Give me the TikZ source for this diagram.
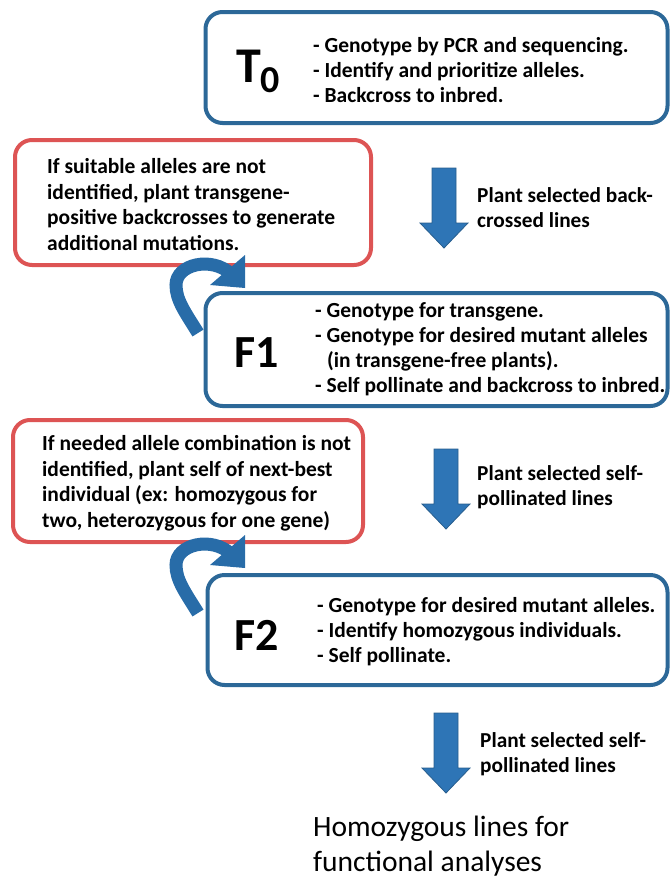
\documentclass[tikz,border=0pt]{standalone}
\usepackage{fontspec}
\setmainfont{Carlito}
\definecolor{boxblue}{RGB}{44,104,152}
\definecolor{boxred}{RGB}{221,84,84}
\definecolor{arrfill}{RGB}{46,117,182}
\definecolor{arrline}{RGB}{40,94,142}
\definecolor{curvblue}{RGB}{40,108,168}
\begin{document}
\begin{tikzpicture}[x=1pt,y=-1pt,
  bluebox/.style={draw=boxblue,line width=4pt,rounded corners=17pt,fill=white,inner sep=0pt},
  redbox/.style={draw=boxred,line width=4pt,rounded corners=17pt,fill=white,inner sep=0pt},
  bul/.style={font=\fontsize{21.5}{25}\selectfont\bfseries,align=left,anchor=north west,inner sep=0pt},
  redtxt/.style={font=\fontsize{21.5}{25.8}\selectfont\bfseries,align=left,anchor=north west,inner sep=0pt},
  lbl/.style={font=\fontsize{21.3}{25}\selectfont\bfseries,align=left,anchor=north west,inner sep=0pt},
  gen/.style={font=\fontsize{46}{46}\selectfont\bfseries,anchor=base west,inner sep=0pt},
  fintxt/.style={font=\fontsize{29.5}{35}\selectfont,align=left,anchor=north west,inner sep=0pt},
  downarr/.pic={\filldraw[fill=arrfill,draw=arrline,line width=0.8pt]
     (-12,0) -- (12,0) -- (12,55) -- (24,55) -- (0,80) -- (-24,55) -- (-12,55) -- cycle;},
  looparr/.pic={
     \draw[line width=13pt,curvblue,line cap=butt]
       (198,333) .. controls (185,312) and (176,300) .. (176,285)
       .. controls (176,264) and (212,256) .. (231,274);
     \fill[curvblue] (210,285) -- (245,255) -- (245,288) -- cycle;}
]
\useasboundingbox (0,0) rectangle (670,879);

% blue boxes
\node[bluebox,minimum width=462pt,minimum height=111pt] (t0) at (436.5,67.5) {};
\node[bluebox,minimum width=462pt,minimum height=113pt] (f1) at (436.5,349.5) {};
\node[bluebox,minimum width=460pt,minimum height=110pt] (f2) at (437.5,630) {};
% red boxes
\node[redbox,minimum width=356pt,minimum height=125pt] (r1) at (193,202.5) {};
\node[redbox,minimum width=350pt,minimum height=122pt] (r2) at (188,481) {};

% big labels
\node[gen,font=\fontsize{50}{50}\selectfont\bfseries] (t0lab) at (236,82) {T\raisebox{-10pt}{\fontsize{38}{38}\selectfont 0}};
\node[gen] (f1lab) at (234,367) {F1};
\node[gen] (f2lab) at (234,650) {F2};

% bullet texts
\node[bul] (t0txt) at (313,37) {- Genotype by PCR and sequencing.\\- Identify and prioritize alleles.\\- Backcross to inbred.};
\node[bul] (f1txt) at (315,302) {- Genotype for transgene.\\- Genotype for desired mutant alleles\\\hspace*{12pt}(in transgene-free plants).\\- Self pollinate and backcross to inbred.};
\node[bul] (f2txt) at (317,597) {- Genotype for desired mutant alleles.\\- Identify homozygous individuals.\\- Self pollinate.};

% red texts
\node[redtxt] (r1txt) at (47,158) {If suitable alleles are not\\identified, plant transgene-\\positive backcrosses to generate\\additional mutations.};
\node[redtxt] (r2txt) at (42,435) {If needed allele combination is not\\identified, plant self of next-best\\individual (ex: homozygous for\\two, heterozygous for one gene)};

% down arrows
\coordinate (a1) at (444,168);
\coordinate (a2) at (446,449);
\coordinate (a3) at (446,713);
\pic at (a1) {downarr};
\pic at (a2) {downarr};
\pic at (a3) {downarr};
\node[lbl] (a1txt) at (477,187) {Plant selected back-\\crossed lines};
\node[lbl] (a2txt) at (477,465) {Plant selected self-\\pollinated lines};
\node[lbl] (a3txt) at (480,732) {Plant selected self-\\pollinated lines};

% loop arrows
\coordinate (l1) at (0,0);
\coordinate (l2) at (0,280);
\pic at (l1) {looparr};
\pic at (l2) {looparr};

% final
\node[fintxt] (final) at (313,816) {Homozygous lines for\\functional analyses};
\end{tikzpicture}
\end{document}
